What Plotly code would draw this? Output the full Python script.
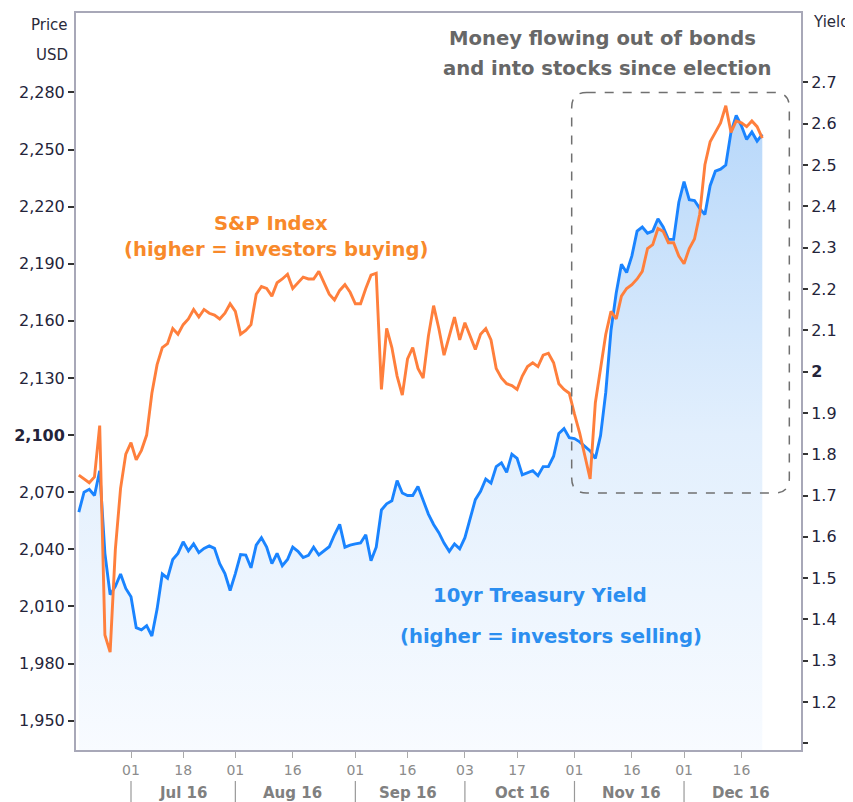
import pandas as pd
import plotly.graph_objects as go

# ---------------- data ----------------
holidays = ["2016-07-04", "2016-09-05", "2016-11-24"]
dates = [d.strftime("%Y-%m-%d") for d in pd.bdate_range("2016-06-17", "2016-12-22")
         if d.strftime("%Y-%m-%d") not in holidays]

sp500 = [
    2079, 2077, 2075, 2078, 2105, 1995, 1986, 2040, 2072, 2090,
    2096, 2087, 2092, 2100, 2122, 2137, 2146, 2148, 2156, 2153,
    2158, 2161, 2166, 2162, 2166, 2164, 2163, 2161, 2164, 2169,
    2165, 2153, 2155, 2158, 2174, 2178, 2177, 2173, 2180, 2182,
    2184.5, 2177, 2180, 2183, 2182, 2182, 2186, 2180, 2174, 2171,
    2176, 2179, 2175, 2169, 2169, 2177, 2184, 2185, 2124, 2156,
    2146, 2131, 2121, 2140, 2146, 2135, 2130, 2152, 2168, 2156,
    2142, 2152, 2162, 2150, 2159, 2152, 2145, 2153, 2156, 2150,
    2135, 2130, 2127, 2126, 2124, 2131, 2136, 2138, 2136, 2142,
    2143, 2138, 2127, 2124, 2122, 2111, 2101, 2089, 2077, 2117,
    2134, 2153, 2165, 2161, 2173, 2177, 2179, 2182, 2186, 2198,
    2200, 2208.5, 2207, 2201, 2201, 2194, 2190, 2198, 2203, 2216,
    2242, 2254, 2259, 2264, 2273, 2259, 2265, 2264, 2262, 2265,
    2262, 2256,
]

yield10 = [
    1.66, 1.708, 1.715, 1.70, 1.76, 1.56, 1.46, 1.48, 1.51, 1.475,
    1.455, 1.38, 1.375, 1.385, 1.36, 1.425, 1.51, 1.50, 1.545, 1.56,
    1.588, 1.566, 1.583, 1.562, 1.572, 1.578, 1.572, 1.535, 1.511, 1.47,
    1.511, 1.557, 1.556, 1.525, 1.58, 1.598, 1.575, 1.535, 1.56, 1.53,
    1.545, 1.575, 1.565, 1.55, 1.555, 1.575, 1.556, 1.565, 1.576, 1.605,
    1.63, 1.575, 1.58, 1.583, 1.585, 1.605, 1.542, 1.575, 1.665, 1.68,
    1.687, 1.736, 1.706, 1.70, 1.70, 1.722, 1.69, 1.655, 1.63, 1.61,
    1.585, 1.565, 1.583, 1.571, 1.598, 1.645, 1.69, 1.71, 1.74, 1.73,
    1.77, 1.779, 1.756, 1.80, 1.79, 1.75, 1.755, 1.76, 1.748, 1.77,
    1.77, 1.795, 1.85, 1.862, 1.84, 1.838, 1.83, 1.82, 1.808, 1.79,
    1.845, 1.95, 2.10, 2.19, 2.26, 2.24, 2.28, 2.34, 2.35, 2.335,
    2.34, 2.37, 2.35, 2.32, 2.32, 2.41, 2.46, 2.416, 2.414, 2.395,
    2.38, 2.45, 2.485, 2.49, 2.50, 2.58, 2.62, 2.595, 2.562, 2.58,
    2.558, 2.574,
]

x_tick_dates = ["2016-07-01", "2016-07-18", "2016-08-01", "2016-08-16", "2016-09-01", "2016-09-16",
                "2016-10-03", "2016-10-17", "2016-11-01", "2016-11-16", "2016-12-01", "2016-12-16"]
x_tick_text = ["01", "18", "01", "16", "01", "16", "03", "17", "01", "16", "01", "16"]

month_labels = ["Jul 16", "Aug 16", "Sep 16", "Oct 16", "Nov 16", "Dec 16"]
month_label_dates = ["2016-07-18", "2016-08-16", "2016-09-16", "2016-10-18", "2016-11-16", "2016-12-16"]
month_starts = ["2016-07-01", "2016-08-01", "2016-09-01", "2016-10-03", "2016-11-01", "2016-12-01"]

left_ticks = [1950, 1980, 2010, 2040, 2070, 2100, 2130, 2160, 2190, 2220, 2250, 2280]
left_text = ["1,950", "1,980", "2,010", "2,040", "2,070", "<b>2,100</b>", "2,130", "2,160",
             "2,190", "2,220", "2,250", "2,280"]
right_ticks = [1.1, 1.2, 1.3, 1.4, 1.5, 1.6, 1.7, 1.8, 1.9, 2.0, 2.1, 2.2, 2.3, 2.4, 2.5, 2.6, 2.7]
right_text = ["", "1.2", "1.3", "1.4", "1.5", "1.6", "1.7", "1.8", "1.9", "<b>2</b>",
              "2.1", "2.2", "2.3", "2.4", "2.5", "2.6", "2.7"]

# ---------------- styling ----------------
FONT = "DejaVu Sans"
ORANGE = "#ff7f3c"
BLUE = "#1a84ff"
AXIS_LINE = "#a8a8b8"

# page is rendered with an 8px body margin -> figure is 8px smaller
FIG_W, FIG_H = 845, 794
ML, MR, MT, MB = 68, 52, 3, 52
PLOT_L, PLOT_T, PLOT_W, PLOT_H = 76, 11, 725, 739  # plot area in page pixels

fig = go.Figure()

# yield (filled) on the base axis, S&P on the overlaying axis so it sits on top
fig.add_trace(go.Scatter(
    x=dates, y=yield10, yaxis="y", mode="lines",
    line=dict(color=BLUE, width=2.9),
    fill="tozeroy",
    fillgradient=dict(type="vertical", start=1.084, stop=2.62,
                      colorscale=[[0, "#f8fbff"], [0.5, "#e2effd"], [1, "#b8d8fa"]]),
    name="10yr Treasury Yield",
))
fig.add_trace(go.Scatter(
    x=dates, y=sp500, yaxis="y2", mode="lines",
    line=dict(color=ORANGE, width=2.9),
    name="S&P Index",
))

# rounded dashed box (paper coords)
x0, x1, yb, yt = 0.6837, 0.9839, 0.3487, 0.8922
rx, ry = 0.0207, 0.0203
path = (f"M {x0+rx},{yt} L {x1-rx},{yt} Q {x1},{yt} {x1},{yt-ry} "
        f"L {x1},{yb+ry} Q {x1},{yb} {x1-rx},{yb} "
        f"L {x0+rx},{yb} Q {x0},{yb} {x0},{yb+ry} "
        f"L {x0},{yt-ry} Q {x0},{yt} {x0+rx},{yt} Z")
shapes = [dict(type="path", path=path, xref="paper", yref="paper",
               line=dict(color="#707070", width=1.5, dash="dash"))]
for d in month_starts:
    shapes.append(dict(type="line", xref="x", yref="paper", x0=d, x1=d, y0=-0.042, y1=-0.0704,
                       line=dict(color="#999999", width=1.2)))

annotations = []
for d, t in zip(month_label_dates, month_labels):
    annotations.append(dict(x=d, y=-0.058, xref="x", yref="paper", text=f"<b>{t}</b>",
                            showarrow=False, xanchor="center", yanchor="middle",
                            font=dict(family=FONT, size=15, color="#808080")))

def txt(px, py, text, color, size, xanchor="center", bold=True):
    annotations.append(dict(
        x=(px - PLOT_L) / PLOT_W, y=(PLOT_T + PLOT_H - py) / PLOT_H, xref="paper", yref="paper",
        text=f"<b>{text}</b>" if bold else text, showarrow=False,
        xanchor=xanchor, yanchor="middle",
        font=dict(family=FONT, size=size, color=color)))

txt(602, 37, "Money flowing out of bonds", "#676767", 19.6)
txt(607, 67, "and into stocks since election", "#676767", 19.6)
txt(271, 222, "S&amp;P Index", "#f8892a", 19.6)
txt(276, 248, "(higher = investors buying)", "#f8892a", 19.6)
txt(540, 595, "10yr Treasury Yield", "#2b8ef0", 19.6)
txt(551, 636, "(higher = investors selling)", "#2b8ef0", 19.6)
txt(70, 23, "Price", "#2a2a3a", 15, xanchor="right", bold=False)
txt(70, 53, "USD", "#2a2a3a", 15, xanchor="right", bold=False)
txt(811, 20, "Yield", "#2a2a3a", 15, xanchor="left", bold=False)

fig.update_layout(
    width=FIG_W, height=FIG_H,
    margin=dict(l=ML, r=MR, t=MT, b=MB),
    paper_bgcolor="white", plot_bgcolor="white",
    showlegend=False,
    font=dict(family=FONT),
    shapes=shapes, annotations=annotations,
    xaxis=dict(
        type="date",
        range=["2016-06-16 11:00", "2017-01-04 10:00"],
        rangebreaks=[dict(bounds=["sat", "mon"]),
                     dict(values=holidays + ["2016-12-26", "2017-01-02"])],
        tickmode="array", tickvals=x_tick_dates, ticktext=x_tick_text,
        ticks="outside", ticklen=6, tickcolor="#aaaaaa", tickwidth=1,
        tickfont=dict(family=FONT, size=14, color="#8c8c8c"),
        showgrid=False, zeroline=False,
        showline=True, linecolor=AXIS_LINE, linewidth=2, mirror=True,
    ),
    yaxis=dict(
        side="right",
        range=[1.084, 2.868],
        tickmode="array", tickvals=right_ticks, ticktext=right_text,
        ticks="outside", ticklen=5, tickcolor="#333333", tickwidth=1.5,
        tickfont=dict(family=FONT, size=16, color="#24243a"),
        showgrid=False, zeroline=False,
        showline=True, linecolor=AXIS_LINE, linewidth=2,
    ),
    yaxis2=dict(
        overlaying="y", side="left",
        range=[1934.6, 2321.7],
        tickmode="array", tickvals=left_ticks, ticktext=left_text,
        ticks="outside", ticklen=6, tickcolor="#333333", tickwidth=1.5,
        tickfont=dict(family=FONT, size=16, color="#24243a"),
        showgrid=False, zeroline=False,
        showline=True, linecolor=AXIS_LINE, linewidth=2,
    ),
)

fig.write_html("out.html")
